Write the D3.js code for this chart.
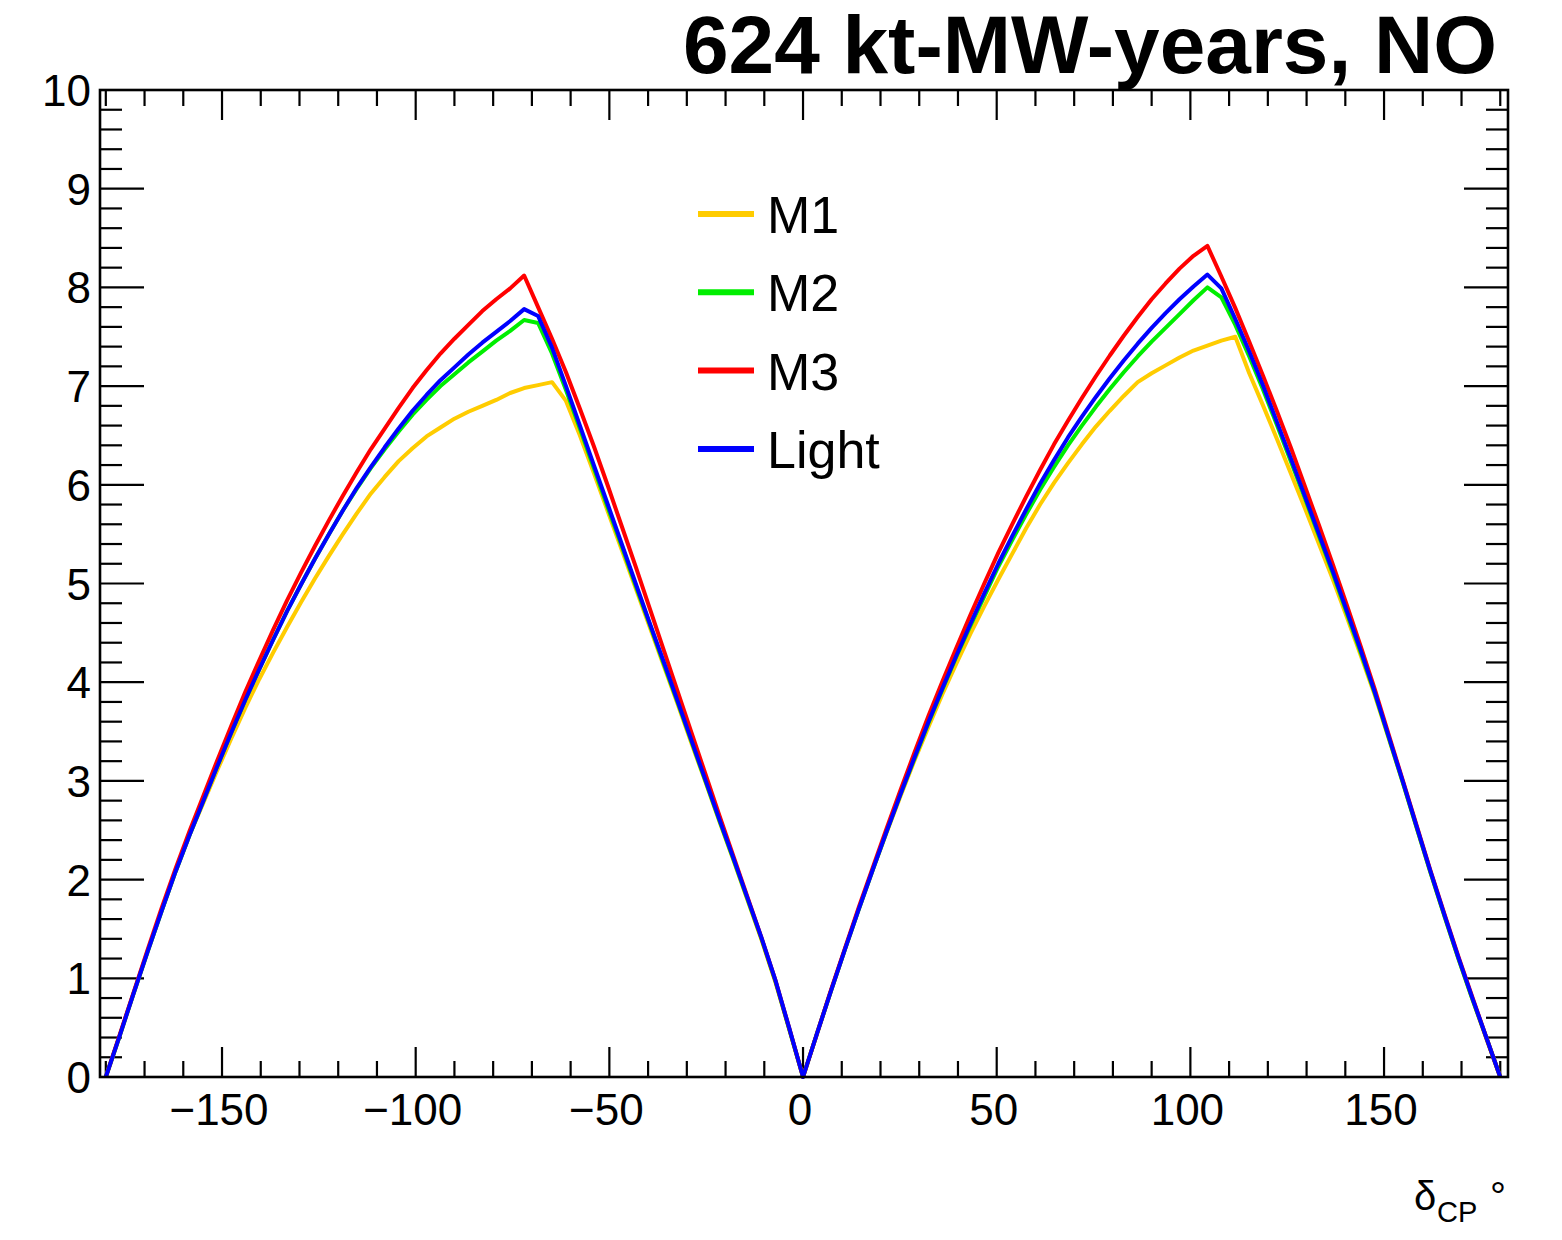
<!DOCTYPE html>
<html>
<head>
<meta charset="utf-8">
<script src="https://cdn.jsdelivr.net/npm/d3@7"></script>
<style>
  html, body { margin: 0; padding: 0; background: #fff; }
  svg { display: block; }
  text { font-family: "Liberation Sans", Arial, Helvetica, sans-serif; fill: #000; }
</style>
</head>
<body>
<svg id="chart" width="1562" height="1240"></svg>
<script>
// δCP scan points (degrees)
const deltaCP = [
  -180, -176.4, -172.8, -169.2, -165.6, -162, -158.4, -154.8, -151.2, -147.6,
  -144, -140.4, -136.8, -133.2, -129.6, -126, -122.4, -118.8, -115.2, -111.6,
  -108, -104.4, -100.8, -97.2, -93.6, -90, -86.4, -82.8, -79.2, -75.6,
  -72, -68.4, -64.8, -61.2, -57.6, -54, -50.4, -46.8, -43.2, -39.6,
  -36, -32.4, -28.8, -25.2, -21.6, -18, -14.4, -10.8, -7.2, -3.6,
  0, 3.6, 7.2, 10.8, 14.4, 18, 21.6, 25.2, 28.8, 32.4,
  36, 39.6, 43.2, 46.8, 50.4, 54, 57.6, 61.2, 64.8, 68.4,
  72, 75.6, 79.2, 82.8, 86.4, 90, 93.6, 97.2, 100.8, 104.4,
  108, 111.6, 115.2, 118.8, 122.4, 126, 129.6, 133.2, 136.8, 140.4,
  144, 147.6, 151.2, 154.8, 158.4, 162, 165.6, 169.2, 172.8, 176.4,
  180
];

// CP-violation sensitivity (sqrt Δχ²) for each configuration
const sensM1 = [
  0, 0.42, 0.85, 1.27, 1.68, 2.08, 2.45, 2.78, 3.11, 3.43,
  3.74, 4.03, 4.30, 4.56, 4.81, 5.05, 5.28, 5.50, 5.71, 5.91,
  6.08, 6.24, 6.37, 6.49, 6.58, 6.67, 6.74, 6.80, 6.86, 6.93,
  6.98, 7.01, 7.04, 6.85, 6.50, 6.12, 5.73, 5.34, 4.95, 4.56,
  4.17, 3.78, 3.38, 2.99, 2.59, 2.20, 1.80, 1.40, 0.97, 0.49,
  0, 0.44, 0.87, 1.29, 1.70, 2.10, 2.48, 2.85, 3.21, 3.55,
  3.88, 4.19, 4.49, 4.77, 5.04, 5.30, 5.56, 5.80, 6.02, 6.22,
  6.41, 6.59, 6.75, 6.90, 7.04, 7.13, 7.21, 7.29, 7.36, 7.41,
  7.46, 7.50, 7.13, 6.80, 6.46, 6.11, 5.76, 5.40, 5.04, 4.66,
  4.27, 3.87, 3.43, 2.99, 2.53, 2.07, 1.63, 1.20, 0.79, 0.39,
  0
];
const sensM2 = [
  0, 0.42, 0.85, 1.27, 1.68, 2.08, 2.45, 2.80, 3.15, 3.49,
  3.82, 4.13, 4.43, 4.72, 4.99, 5.25, 5.50, 5.74, 5.96, 6.17,
  6.36, 6.54, 6.71, 6.86, 7.00, 7.12, 7.24, 7.35, 7.46, 7.56,
  7.67, 7.64, 7.33, 6.96, 6.57, 6.17, 5.77, 5.38, 4.98, 4.59,
  4.19, 3.80, 3.40, 3.00, 2.60, 2.21, 1.81, 1.41, 0.98, 0.49,
  0, 0.44, 0.87, 1.29, 1.70, 2.10, 2.49, 2.87, 3.23, 3.59,
  3.93, 4.26, 4.57, 4.87, 5.17, 5.44, 5.70, 5.95, 6.18, 6.40,
  6.60, 6.79, 6.97, 7.14, 7.30, 7.45, 7.59, 7.73, 7.87, 8.00,
  7.90, 7.62, 7.30, 6.96, 6.60, 6.23, 5.86, 5.48, 5.10, 4.70,
  4.30, 3.89, 3.44, 2.99, 2.53, 2.07, 1.63, 1.20, 0.79, 0.40,
  0
];
const sensM3 = [
  0, 0.43, 0.86, 1.29, 1.71, 2.11, 2.49, 2.85, 3.21, 3.56,
  3.90, 4.22, 4.53, 4.83, 5.11, 5.38, 5.64, 5.89, 6.13, 6.36,
  6.57, 6.78, 6.98, 7.16, 7.33, 7.48, 7.62, 7.76, 7.88, 7.99,
  8.12, 7.80, 7.48, 7.14, 6.77, 6.39, 5.99, 5.58, 5.17, 4.75,
  4.33, 3.91, 3.49, 3.07, 2.65, 2.24, 1.83, 1.42, 0.99, 0.50,
  0, 0.44, 0.88, 1.30, 1.72, 2.12, 2.52, 2.91, 3.29, 3.66,
  4.01, 4.35, 4.68, 5.00, 5.31, 5.60, 5.88, 6.15, 6.41, 6.65,
  6.88, 7.10, 7.31, 7.51, 7.70, 7.88, 8.04, 8.19, 8.32, 8.42,
  8.11, 7.79, 7.45, 7.10, 6.74, 6.37, 5.98, 5.59, 5.19, 4.78,
  4.36, 3.93, 3.47, 3.01, 2.55, 2.09, 1.65, 1.22, 0.81, 0.40,
  0
];
const sensLight = [
  0, 0.42, 0.85, 1.27, 1.68, 2.08, 2.45, 2.80, 3.15, 3.49,
  3.82, 4.13, 4.43, 4.72, 4.99, 5.25, 5.50, 5.74, 5.97, 6.18,
  6.38, 6.57, 6.75, 6.91, 7.06, 7.19, 7.32, 7.44, 7.55, 7.66,
  7.78, 7.71, 7.39, 7.00, 6.60, 6.20, 5.80, 5.40, 5.00, 4.60,
  4.21, 3.81, 3.41, 3.01, 2.61, 2.22, 1.82, 1.42, 0.99, 0.50,
  0, 0.44, 0.87, 1.29, 1.70, 2.10, 2.49, 2.87, 3.24, 3.60,
  3.94, 4.27, 4.59, 4.90, 5.20, 5.48, 5.75, 6.01, 6.25, 6.48,
  6.69, 6.89, 7.08, 7.26, 7.43, 7.59, 7.74, 7.88, 8.01, 8.13,
  7.99, 7.68, 7.35, 7.00, 6.63, 6.26, 5.88, 5.50, 5.12, 4.72,
  4.32, 3.90, 3.45, 3.00, 2.54, 2.08, 1.64, 1.21, 0.80, 0.40,
  0
];

const seriesNames = ["M1", "M2", "M3", "Light"];
const seriesColors = ["#ffcc00", "#00ee00", "#ff0000", "#0000ff"];
const seriesValues = [sensM1, sensM2, sensM3, sensLight];

const xMajorTicks = [-150, -100, -50, 0, 50, 100, 150];
const yMajorTicks = [0, 1, 2, 3, 4, 5, 6, 7, 8, 9, 10];

const titleText = "624 kt-MW-years, NO";

// ---- layout ----
const frame = { left: 100, right: 1508, top: 90, bottom: 1077 };

const x = d3.scaleLinear().domain([-181.5, 182.0]).range([frame.left, frame.right]);
const y = d3.scaleLinear().domain([0, 10]).range([frame.bottom, frame.top]);

const svg = d3.select("#chart");

// minor tick positions from the scales
const xMinor = x.ticks(40).filter(v => v >= -180 && v <= 180 && !xMajorTicks.includes(v));
const yMinor = d3.range(0, 10.001, 0.2).map(v => +v.toFixed(1)).filter(v => !yMajorTicks.includes(v));

const tickG = svg.append("g").attr("stroke", "#000").attr("stroke-width", 2.2);

// x ticks, bottom and top, pointing inward
[[frame.bottom, -1], [frame.top, 1]].forEach(([y0, dir]) => {
  tickG.selectAll(null).data(xMajorTicks).join("line")
    .attr("x1", d => x(d)).attr("x2", d => x(d))
    .attr("y1", y0).attr("y2", y0 + dir * 30);
  tickG.selectAll(null).data(xMinor).join("line")
    .attr("x1", d => x(d)).attr("x2", d => x(d))
    .attr("y1", y0).attr("y2", y0 + dir * 16);
});

// y ticks, left and right, pointing inward
[[frame.left, 1], [frame.right, -1]].forEach(([x0, dir]) => {
  tickG.selectAll(null).data(yMajorTicks).join("line")
    .attr("y1", d => y(d)).attr("y2", d => y(d))
    .attr("x1", x0).attr("x2", x0 + dir * 44);
  tickG.selectAll(null).data(yMinor).join("line")
    .attr("y1", d => y(d)).attr("y2", d => y(d))
    .attr("x1", x0).attr("x2", x0 + dir * 22);
});

// curves
const line = d3.line()
  .x((d, i) => x(deltaCP[i]))
  .y(d => y(d));

svg.append("g").selectAll("path")
  .data(seriesValues)
  .join("path")
  .attr("d", d => line(d))
  .attr("fill", "none")
  .attr("stroke", (d, i) => seriesColors[i])
  .attr("stroke-width", 4)
  .attr("stroke-linejoin", "round");

// frame
svg.append("rect")
  .attr("x", frame.left).attr("y", frame.top)
  .attr("width", frame.right - frame.left).attr("height", frame.bottom - frame.top)
  .attr("fill", "none").attr("stroke", "#000").attr("stroke-width", 2.6);

// tick labels
const fmt = d3.format("d");
svg.append("g").selectAll("text").data(xMajorTicks).join("text")
  .attr("x", d => x(d) - 3)
  .attr("y", 1125)
  .attr("text-anchor", "middle")
  .attr("font-size", 44)
  .text(d => fmt(d));

svg.append("g").selectAll("text").data(yMajorTicks).join("text")
  .attr("x", 91)
  .attr("y", d => y(d) + 16)
  .attr("text-anchor", "end")
  .attr("font-size", 44)
  .text(d => fmt(d));

// axis title
const xt = svg.append("text").attr("y", 1210).attr("font-size", 40);
xt.append("tspan").attr("x", 1414).text("δ");
xt.append("tspan").attr("x", 1437).attr("dy", 12).attr("font-size", 29).text("CP");
xt.append("tspan").attr("x", 1490).attr("dy", -12).text("°");

// title
svg.append("text")
  .attr("x", 1497).attr("y", 73)
  .attr("text-anchor", "end")
  .attr("font-size", 82)
  .attr("font-weight", "bold")
  .text(titleText);

// legend
const legY0 = 214, legDy = 78.3;
const leg = svg.append("g");
seriesNames.forEach((name, i) => {
  const ly = legY0 + i * legDy;
  leg.append("line")
    .attr("x1", 698).attr("x2", 754)
    .attr("y1", ly).attr("y2", ly)
    .attr("stroke", seriesColors[i]).attr("stroke-width", 6);
  leg.append("text")
    .attr("x", 767).attr("y", ly + 19)
    .attr("font-size", 52)
    .text(name);
});
</script>
</body>
</html>
